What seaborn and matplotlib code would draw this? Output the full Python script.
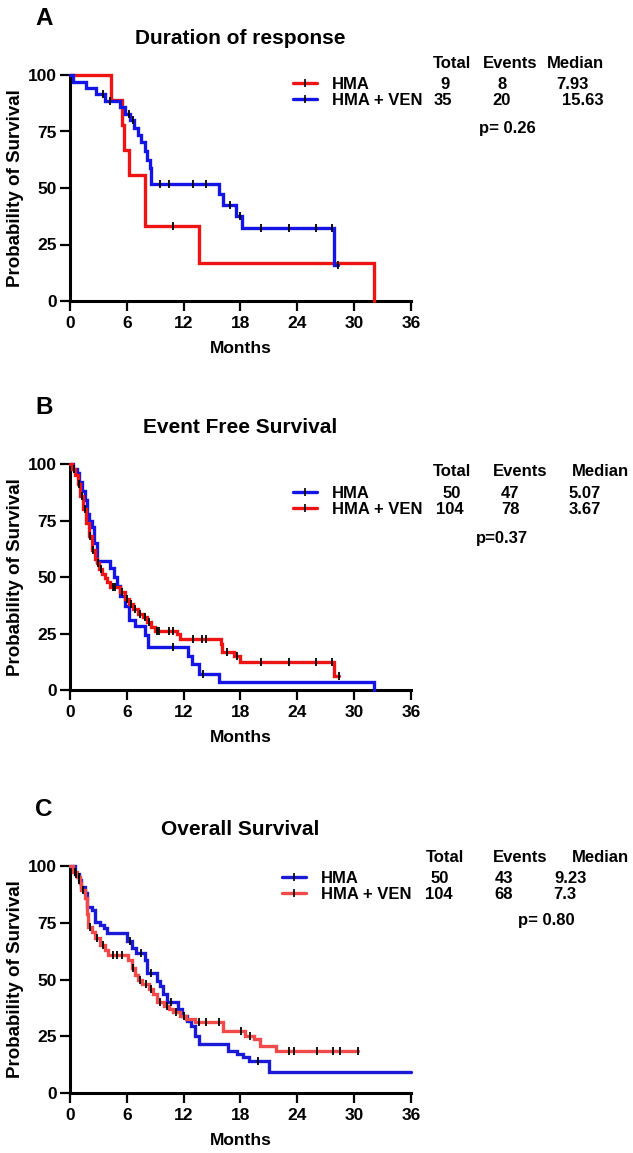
import numpy as np
import pandas as pd
import matplotlib
matplotlib.use("Agg")
import matplotlib.pyplot as plt
import seaborn as sns
from matplotlib.lines import Line2D

W, H = 633, 1153

# ---------------- data ----------------
x_ticks = [0, 6, 12, 18, 24, 30, 36]
y_ticks = [0, 25, 50, 75, 100]
group_labels = ["HMA", "HMA + VEN"]

# Panel A - Duration of response
A_hma_t = [0, 4.3, 5.45, 5.7, 6.2, 7.93, 13.6, 32.1]
A_hma_s = [100, 88.9, 77.8, 66.7, 55.6, 33.3, 16.7, 0]
A_hma_c = [10.9]
A_ven_t = [0, 0.35, 1.7, 2.75, 3.7, 5.3, 5.8, 6.3, 6.8, 7.2, 7.5, 7.9, 8.1, 8.4, 8.5,
           15.7, 16.1, 17.5, 18.2, 27.9, 28.3]
A_ven_s = [100, 97.1, 94.3, 91.4, 88.6, 85.7, 82.9, 80.0, 76.5, 73.5, 70.2, 66.4, 62.6, 58.8, 51.6,
           47.3, 42.5, 37.8, 32.3, 16.1, 16.1]
A_ven_c = [3.5, 4.2, 6.2, 6.6, 9.5, 10.4, 13.0, 14.4, 16.9, 18.0, 20.2, 23.1, 26.0, 27.7, 28.3]
A_stats = [["9", "8", "7.93"], ["35", "20", "15.63"]]
A_p = "p= 0.26"

# Panel B - Event Free Survival
B_hma_t = [0, 0.3, 0.7, 1.0, 1.3, 1.6, 1.8, 2.0, 2.3, 2.5, 2.8, 4.2, 4.6, 5.0, 5.3, 5.8, 6.2,
           6.9, 7.9, 8.2, 12.5, 12.9, 13.6, 15.7, 32.1]
B_hma_s = [100, 98, 96, 92, 88, 84, 78, 75, 72, 65, 57, 54, 50, 46, 41.5, 37, 31,
           28.4, 24.4, 19, 15, 11.3, 7, 3.7, 0]
B_hma_c = [0.4, 10.9, 14.0]
B_ven_t = [0, 0.2, 0.5, 0.8, 1.1, 1.4, 1.7, 2.0, 2.3, 2.6, 2.8, 3.1, 3.4, 3.7, 3.9, 4.2, 5.3,
           5.8, 6.2, 6.7, 7.2, 7.7, 8.1, 8.6, 9.0, 11.3, 11.6, 15.9, 16.0, 17.3, 18.0, 27.9, 28.4]
B_ven_s = [100, 98, 95, 91, 86, 80, 74, 68, 62, 58, 56, 53.5, 51.5, 49.5, 47.8, 45.6, 43.4,
           40.4, 38.2, 35.9, 33.7, 32.2, 30, 27.8, 26.3, 24.8, 22.6, 20.4, 16.9, 15.1, 12.5, 6.3, 6.3]
B_ven_c = [0.4, 0.9, 1.3, 1.6, 2.1, 2.4, 3.0, 3.3, 4.5, 4.8, 5.5, 6.0, 6.4, 6.9, 7.4, 7.9, 8.3,
           9.2, 9.4, 10.4, 10.9, 13.0, 13.9, 14.4, 16.6, 17.6, 20.2, 23.1, 26.0, 27.7, 28.4]
B_stats = [["50", "47", "5.07"], ["104", "78", "3.67"]]
B_p = "p=0.37"

# Panel C - Overall Survival
C_hma_t = [0, 0.5, 0.9, 1.2, 1.6, 1.8, 2.3, 2.6, 3.2, 3.6, 3.9, 6.0, 6.5, 7.0, 7.9, 8.1, 9.2,
           9.5, 9.8, 10.2, 11.4, 11.8, 12.3, 12.8, 13.2, 13.6, 16.7, 17.6, 18.3, 18.9, 21.0, 36]
C_hma_s = [100, 96.6, 93.7, 90.8, 87.9, 82, 80.6, 75.5, 74, 72.6, 70.4, 66.8, 63.9, 61.7, 58.8, 53, 49.5,
           47.1, 43.5, 40.2, 36.9, 34, 31.8, 29.7, 25.3, 21.5, 18.7, 17.3, 15.8, 14.2, 9.3, 9.3]
C_hma_c = [0.6, 1.0, 6.3, 7.5, 8.5, 10.7, 19.8]
C_ven_t = [0, 0.3, 0.7, 1.1, 1.2, 1.6, 1.75, 1.9, 2.3, 2.6, 3.2, 3.7, 4.0, 6.1, 6.5, 6.9, 7.2,
           7.6, 8.3, 8.8, 9.2, 9.9, 10.4, 10.9, 11.6, 12.2, 13.2, 16.1, 18.5, 19.4, 20.1, 21.8, 30.4]
C_ven_s = [100, 97.5, 95.2, 92.3, 89.3, 85.7, 79, 73.3, 71.1, 68.3, 65.3, 63.1, 61.0, 58.5, 55.2, 52.2, 50,
           47.9, 45.7, 43.5, 39.9, 38.4, 36.9, 35.5, 33.8, 32.6, 31.1, 27.5, 25.3, 23.8, 20.9, 18.7, 18.7]
C_ven_c = [0.5, 0.9, 1.4, 2.1, 2.8, 3.5, 4.5, 5.0, 5.5, 6.7, 7.4, 8.0, 8.6, 9.5, 10.2, 11.2, 12.0,
           13.6, 14.4, 15.7, 18.1, 19.0, 23.1, 23.6, 26.1, 27.8, 28.5, 30.4]
C_stats = [["50", "43", "9.23"], ["104", "68", "7.3"]]
C_p = "p= 0.80"

header = ["Total", "Events", "Median"]

# ---------------- style ----------------
sns.set_theme(style="ticks", rc={
    "axes.edgecolor": "black", "text.color": "black", "axes.labelcolor": "black",
    "xtick.color": "black", "ytick.color": "black"})
plt.rcParams["font.family"] = ["Liberation Sans", "DejaVu Sans"]
plt.rcParams["font.weight"] = "bold"
plt.rcParams["axes.labelweight"] = "bold"
plt.rcParams["axes.titleweight"] = "bold"

RED = "#EE1414"
BLUE = "#1414E6"
RED_C = "#F04A4A"
BLUE_C = "#1A1AD6"
LW = 2.4

fig = plt.figure(figsize=(W / 100, H / 100), dpi=100)


def km(ax, t, s, cens, color):
    df = pd.DataFrame({"Months": t, "Survival": s})
    sns.lineplot(data=df, x="Months", y="Survival", ax=ax, color=color, lw=LW,
                 drawstyle="steps-post", estimator=None, sort=False, clip_on=False,
                 zorder=3, solid_joinstyle="miter")
    t = np.asarray(t, float)
    s = np.asarray(s, float)
    idx = np.searchsorted(t, cens, side="right") - 1
    cdf = pd.DataFrame({"Months": cens, "Survival": s[idx]})
    sns.scatterplot(data=cdf, x="Months", y="Survival", ax=ax, marker="|", color="black",
                    s=30, linewidth=1.3, zorder=4, clip_on=False)


panels = [
    dict(letter="A", title="Duration of response", top=75, bot=301,
         curves=[(A_hma_t, A_hma_s, A_hma_c, RED), (A_ven_t, A_ven_s, A_ven_c, BLUE)],
         leg_x=293, row1=86, hdr_y=63, hdr_x=[452, 510, 575],
         val_x=[[445, 502, 572], [443, 502, 583]], stats=A_stats, p=A_p, p_xy=(507, 128)),
    dict(letter="B", title="Event Free Survival", top=464, bot=690,
         curves=[(B_hma_t, B_hma_s, B_hma_c, BLUE), (B_ven_t, B_ven_s, B_ven_c, RED)],
         leg_x=293, row1=495, hdr_y=472, hdr_x=[452, 520, 600],
         val_x=[[452, 510, 585], [450, 510, 585]], stats=B_stats, p=B_p, p_xy=(502, 538)),
    dict(letter="C", title="Overall Survival", top=866, bot=1093,
         curves=[(C_hma_t, C_hma_s, C_hma_c, BLUE_C), (C_ven_t, C_ven_s, C_ven_c, RED_C)],
         leg_x=282, row1=880, hdr_y=858, hdr_x=[445, 520, 600],
         val_x=[[440, 504, 571], [439, 504, 565]], stats=C_stats, p=C_p, p_xy=(546, 920)),
]

L, R = 70, 411
legends = []
for P in panels:
    ax = fig.add_axes([L / W, 1 - P["bot"] / H, (R - L) / W, (P["bot"] - P["top"]) / H])
    for (t, s, c, col) in P["curves"]:
        km(ax, t, s, c, col)
    ax.set_xlim(0, 36)
    ax.set_ylim(0, 100)
    ax.set_xticks(x_ticks)
    ax.set_yticks(y_ticks)
    sns.despine(ax=ax)
    for sp in ["left", "bottom"]:
        ax.spines[sp].set_linewidth(2.2)
        ax.spines[sp].set_color("black")
    ax.tick_params(length=7, width=1.6, labelsize=12.5, colors="black")
    ax.tick_params(axis="y", pad=2.5)
    ax.tick_params(axis="x", pad=3.5)
    hgt = P["bot"] - P["top"]
    ax.set_xlabel("Months", fontsize=12.5, fontweight="bold")
    ax.set_ylabel("Probability of Survival", fontsize=13.5, fontweight="bold")
    ax.xaxis.set_label_coords(0.5, -(341 - 301) / hgt)
    ax.yaxis.set_label_coords((24 - L) / (R - L), 0.5)
    ax.set_title(P["title"], fontsize=15, fontweight="bold", pad=22)
    fig.text(35 / W, 1 - (P["top"] - 56.5) / H, P["letter"], fontsize=17.5,
             fontweight="bold", ha="left", va="center")

    handles = [Line2D([], [], color=col, lw=LW, marker="|", markersize=6,
                      markeredgecolor="black", markeredgewidth=1.2)
               for (_, _, _, col) in P["curves"]]
    leg = ax.legend(handles, group_labels, loc="upper left",
                    bbox_to_anchor=(P["leg_x"] / W, 1 - (P["row1"] - 9.3) / H),
                    bbox_transform=fig.transFigure, frameon=False, borderpad=0,
                    borderaxespad=0, handlelength=1.45, handletextpad=0.9,
                    labelspacing=0.08, prop=dict(size=12, weight="bold"))
    legends.append((leg, P))
    for hx, htxt in zip(P["hdr_x"], header):
        fig.text(hx / W, 1 - P["hdr_y"] / H, htxt, fontsize=12, fontweight="bold",
                 ha="center", va="center")
    fig.text(P["p_xy"][0] / W, 1 - P["p_xy"][1] / H, P["p"], fontsize=12,
             fontweight="bold", ha="center", va="center")

fig.canvas.draw()
for leg, P in legends:
    for r, txt in enumerate(leg.get_texts()):
        bb = txt.get_window_extent()
        yc = (bb.y0 + bb.y1) / 2 / fig.bbox.height
        for vx, val in zip(P["val_x"][r], P["stats"][r]):
            fig.text(vx / W, yc, val, fontsize=12, fontweight="bold", ha="center", va="center")

fig.savefig("out.png", dpi=100)
